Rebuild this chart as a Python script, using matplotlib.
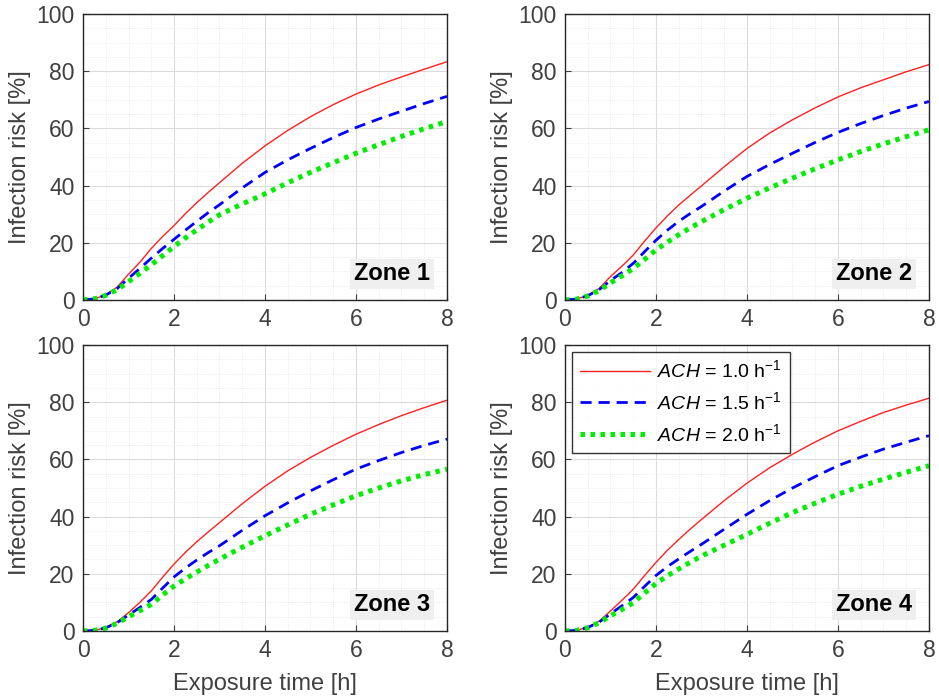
import numpy as np
import matplotlib
matplotlib.use("Agg")
from matplotlib import pyplot as plt
from matplotlib.ticker import MultipleLocator

plt.rcParams['font.family'] = ['Liberation Sans', 'DejaVu Sans']
plt.rcParams['mathtext.fontset'] = 'custom'
plt.rcParams['mathtext.rm'] = 'Liberation Sans'
plt.rcParams['mathtext.it'] = 'Liberation Sans:italic'

# Exposure time [h]
hours = [0, 0.25, 0.5, 0.75, 1, 1.25, 1.5, 1.75, 2, 2.25, 2.5, 2.75, 3,
         3.5, 4, 4.5, 5, 5.5, 6, 6.5, 7, 7.5, 8]

# Infection risk [%] per zone, per air change rate (1.0, 1.5, 2.0 h-1)
zone1_ach10 = [0, 0.4, 1.8, 4.5, 9.0, 13.2, 18.0, 22.2, 26.0, 30.2, 34.0, 37.6, 41.0,
               47.8, 53.9, 59.3, 64.1, 68.3, 72.0, 75.2, 78.0, 80.7, 83.3]
zone1_ach15 = [0, 0.4, 1.7, 4.0, 7.6, 11.0, 14.6, 18.0, 21.2, 24.4, 27.5, 30.5, 33.3,
               39.2, 44.6, 49.0, 53.0, 56.8, 60.3, 63.3, 66.0, 68.7, 71.2]
zone1_ach20 = [0, 0.4, 1.6, 3.6, 6.4, 9.3, 12.3, 15.5, 18.7, 21.7, 24.5, 27.2, 29.8,
               33.6, 37.1, 41.0, 44.6, 48.0, 51.3, 54.3, 57.2, 59.9, 62.4]

zone2_ach10 = [0, 0.3, 1.6, 4.0, 8.2, 11.8, 15.7, 20.6, 25.2, 29.4, 33.2, 36.6, 39.9,
               46.6, 53.0, 58.4, 63.0, 67.2, 71.0, 74.2, 77.0, 79.8, 82.3]
zone2_ach15 = [0, 0.3, 1.5, 3.6, 6.8, 9.6, 12.8, 16.9, 20.9, 24.4, 27.5, 30.2, 32.7,
               38.1, 43.2, 47.4, 51.3, 55.1, 58.6, 61.7, 64.5, 67.1, 69.4]
zone2_ach20 = [0, 0.3, 1.4, 3.3, 6.0, 8.4, 11.0, 14.2, 17.5, 20.2, 22.8, 25.2, 27.4,
               31.6, 35.6, 39.2, 42.6, 45.9, 49.0, 51.9, 54.6, 57.1, 59.5]

zone3_ach10 = [0, 0.2, 1.2, 3.2, 6.4, 10.0, 14.0, 18.8, 23.4, 27.5, 31.2, 34.6, 37.9,
               44.5, 50.6, 56.0, 60.7, 64.9, 68.8, 72.2, 75.3, 78.1, 80.7]
zone3_ach15 = [0, 0.2, 1.1, 2.9, 5.6, 8.2, 11.0, 15.0, 18.9, 22.0, 24.8, 27.4, 29.8,
               35.2, 40.3, 44.8, 49.0, 52.9, 56.6, 59.6, 62.4, 64.9, 67.1]
zone3_ach20 = [0, 0.2, 1.0, 2.7, 5.0, 7.1, 9.3, 12.6, 15.7, 18.2, 20.6, 22.9, 25.1,
               29.3, 33.3, 37.1, 40.8, 44.1, 47.3, 50.0, 52.5, 54.7, 56.6]

zone4_ach10 = [0, 0.2, 1.3, 3.4, 7.0, 10.7, 14.6, 19.4, 24.0, 28.2, 32.0, 35.6, 39.0,
               45.6, 51.7, 57.1, 61.8, 66.1, 70.0, 73.3, 76.4, 79.0, 81.4]
zone4_ach15 = [0, 0.2, 1.2, 3.1, 6.0, 8.8, 11.7, 15.6, 19.4, 22.5, 25.2, 27.8, 30.3,
               35.6, 40.8, 45.6, 50.0, 54.0, 57.8, 60.8, 63.6, 66.0, 68.3]
zone4_ach20 = [0, 0.2, 1.1, 2.9, 5.3, 7.5, 9.9, 13.3, 16.6, 19.3, 21.7, 24.0, 26.2,
               30.0, 33.8, 37.7, 41.4, 44.7, 47.8, 50.6, 53.1, 55.5, 57.8]

zone_names = ["Zone 1", "Zone 2", "Zone 3", "Zone 4"]
zone_data = [
    (zone1_ach10, zone1_ach15, zone1_ach20),
    (zone2_ach10, zone2_ach15, zone2_ach20),
    (zone3_ach10, zone3_ach15, zone3_ach20),
    (zone4_ach10, zone4_ach15, zone4_ach20),
]
ach_labels = [r"$\it{ACH}$ = 1.0 h$^{-1}$", r"$\it{ACH}$ = 1.5 h$^{-1}$", r"$\it{ACH}$ = 2.0 h$^{-1}$"]

line_styles = [
    dict(color="#ff2020", linestyle="-", linewidth=1.0),
    dict(color="#0000ff", linestyle=(0, (4, 2.5)), linewidth=2.0),
    dict(color="#00ee00", linestyle=(0, (0.9, 1.1)), linewidth=3.6),
]

text_gray = "#404040"
fig = plt.figure(figsize=(9.39, 6.97), dpi=100)

# axes rectangles in figure fractions: left, bottom, width, height
positions = [
    [0.0884, 0.5696, 0.3876, 0.4103],
    [0.6017, 0.5696, 0.3876, 0.4103],
    [0.0884, 0.0947, 0.3876, 0.4103],
    [0.6017, 0.0947, 0.3876, 0.4103],
]

for i, (name, curves) in enumerate(zip(zone_names, zone_data)):
    ax = fig.add_axes(positions[i])
    for values, style, label in zip(curves, line_styles, ach_labels):
        ax.plot(hours, values, label=label, **style)

    ax.set_xlim(0, 8)
    ax.set_ylim(0, 100)
    ax.xaxis.set_major_locator(MultipleLocator(2))
    ax.xaxis.set_minor_locator(MultipleLocator(0.5))
    ax.yaxis.set_major_locator(MultipleLocator(20))
    ax.yaxis.set_minor_locator(MultipleLocator(5))
    ax.grid(which="major", color="#dcdcdc", linewidth=0.8, linestyle="-")
    ax.grid(which="minor", color="#e4e4e4", linewidth=0.6, linestyle=":")
    ax.set_axisbelow(True)
    ax.tick_params(which="both", direction="in", top=False, right=False,
                   labelsize=16.5, colors=text_gray, labelcolor=text_gray)
    ax.tick_params(which="major", length=4, pad=6)
    ax.tick_params(which="minor", length=0)
    for spine in ax.spines.values():
        spine.set_color("#262626")
        spine.set_linewidth(1.0)

    ax.set_ylabel("Infection risk [%]", fontsize=17, color=text_gray, labelpad=4)
    if i >= 2:
        ax.set_xlabel("Exposure time [h]", fontsize=17, color=text_gray, labelpad=8)

    ax.text(0.849, 0.091, name, transform=ax.transAxes, ha="center", va="center",
            fontsize=17, fontweight="bold", color="black",
            bbox=dict(facecolor="#efefef", edgecolor="none", boxstyle="square,pad=0.15"))

    if i == 3:
        leg = ax.legend(loc="upper left", fontsize=14, frameon=True, fancybox=False,
                        handlelength=3.6, borderaxespad=0.35, labelspacing=0.5,
                        handletextpad=0.4, borderpad=0.4)
        leg.get_frame().set_edgecolor("black")
        leg.get_frame().set_linewidth(1.0)

fig.savefig("out.png", dpi=100)
